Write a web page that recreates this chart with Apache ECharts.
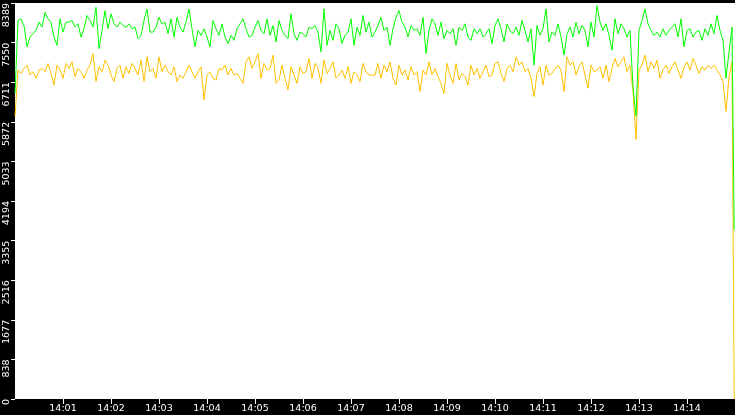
<!DOCTYPE html>
<html>
<head>
<meta charset="utf-8">
<script src="https://cdn.jsdelivr.net/npm/echarts@6/dist/echarts.min.js"></script>
<style>
    html, body { margin: 0; padding: 0; background: #000; }
    #main { width: 735px; height: 415px; }
</style>
</head>
<body>
<div id="main"></div>
<script>
// 采样间隔(秒), 起始 14:00:00, 共 15 分钟
var stepSec = 3.75;
var endSec = 899;
var startHour = 14;

// 纵轴刻度
var yMax = 8389;
var ySplit = 10;

// 横轴刻度标签
var timeLabels = ['14:01','14:02','14:03','14:04','14:05','14:06','14:07','14:08','14:09','14:10','14:11','14:12','14:13','14:14'];

// 绿色曲线 (最后一个点为结尾的跌落)
var greenData = [
    6478, 8018, 8053, 7913, 7458, 7668, 7738, 7808, 7983, 7878, 8193, 8053, 7983, 7668, 7493, 8053, 7773, 7983, 7983, 8018,
    7878, 7948, 7668, 7843, 8123, 8018, 7878, 8298, 7423, 7808, 8228, 7843, 8158, 7948, 7878, 7983, 7913, 7878, 7948, 7843,
    7878, 7633, 7703, 8018, 8263, 7773, 7773, 7878, 8088, 7948, 7983, 7738, 8053, 7668, 8088, 7878, 7773, 7983, 8263, 7843,
    7458, 7808, 7703, 7843, 7668, 7458, 8018, 7843, 7703, 7948, 7668, 7528, 7703, 7598, 7843, 7948, 8053, 7843, 7668, 7703,
    7878, 8018, 7808, 7738, 8053, 7703, 7913, 7563, 8018, 7808, 7703, 7633, 8158, 7738, 7598, 7773, 7738, 7668, 7878, 7843,
    7913, 7773, 7353, 8263, 7493, 7808, 7598, 7948, 7843, 7528, 7703, 7773, 8053, 7493, 7878, 7703, 8123, 7773, 7983, 7668,
    7773, 7913, 8088, 7808, 7878, 7493, 7843, 8088, 8228, 7983, 7878, 7668, 7913, 7808, 7843, 7703, 8088, 7318, 7808, 8053,
    7948, 7703, 7983, 7633, 7808, 7738, 7843, 7493, 7878, 7808, 7948, 7668, 7598, 7843, 7738, 7843, 7668, 7738, 7843, 7528,
    7913, 8053, 7843, 7563, 7948, 7808, 7738, 7878, 7703, 8018, 7808, 7563, 7843, 7073, 7913, 7703, 7843, 8263, 7563, 7773,
    7703, 7948, 7668, 7283, 7738, 7878, 7668, 7983, 7738, 7913, 7808, 7458, 7983, 7668, 8333, 7983, 7808, 7948, 7703, 7388,
    8053, 7738, 7948, 7843, 7668, 7808, 6618, 5988, 7808, 8018, 8263, 7948, 7808, 7703, 7773, 7668, 7843, 7703, 7808, 7878,
    7948, 7668, 8053, 7458, 7808, 7843, 7668, 7773, 7808, 7598, 7843, 7703, 7948, 7738, 8123, 7808, 7598, 6793, 7353, 7878,
    3590
];

// 黄色曲线 (最后一个点为结尾的跌落)
var yellowData = [
    5990, 6968, 6898, 7003, 7073, 6863, 6933, 6793, 6968, 7003, 6933, 7108, 6898, 6653, 7073, 6968, 6793, 7108, 7003, 7143,
    6828, 7003, 6933, 6793, 6968, 7073, 7318, 6723, 7038, 6933, 7178, 7073, 6863, 6723, 7003, 7073, 6793, 7038, 6898, 7108,
    7003, 6863, 7178, 6723, 7248, 6933, 7003, 6793, 7248, 6933, 7073, 6933, 6863, 7038, 6723, 6863, 6793, 6933, 7073, 6933,
    6793, 6933, 7038, 6338, 6863, 6933, 6793, 6758, 7003, 6968, 7073, 6863, 7003, 6863, 6898, 6793, 6688, 7143, 7248, 7003,
    7143, 7318, 6793, 7108, 6968, 7003, 7283, 6688, 6758, 7073, 6793, 6548, 7038, 6863, 6688, 7038, 6898, 6933, 7213, 6793,
    7108, 7003, 6688, 7178, 6898, 7003, 7143, 6793, 6863, 6968, 6793, 7038, 6688, 6933, 6863, 6723, 7108, 6933, 6863, 6863,
    6863, 7108, 6793, 7073, 6933, 7143, 6793, 6653, 7073, 6863, 6968, 6758, 7038, 6863, 6933, 6513, 6968, 6863, 7143, 6863,
    7003, 6828, 6688, 6478, 7108, 6863, 6688, 7108, 6758, 6898, 6828, 6653, 7073, 6863, 7003, 6793, 6933, 7073, 6828, 6863,
    7108, 7143, 6898, 6723, 7003, 7073, 6933, 7248, 7073, 7143, 6933, 7003, 6793, 6408, 6898, 7038, 6653, 7073, 6863, 6898,
    7003, 7073, 6968, 6513, 7248, 7073, 7143, 6863, 7038, 7143, 6863, 6583, 7073, 6933, 6968, 7038, 6793, 7073, 6723, 7003,
    7213, 7038, 7143, 7248, 6933, 7073, 6513, 5498, 6968, 7073, 7283, 6933, 7143, 7003, 7178, 6793, 6968, 7073, 6898, 7038,
    7143, 6968, 6793, 7038, 7143, 6968, 7213, 7073, 6898, 7038, 6968, 7073, 7003, 7073, 6968, 6863, 6723, 6093, 6828, 7143,
    0
];

// 把数值数组转成 [秒, 值]
function toPoints(arr) {
    var pts = [];
    for (var i = 0; i < arr.length; i++) {
        var t = (i === arr.length - 1) ? endSec : i * stepSec;
        pts.push([t, arr[i]]);
    }
    return pts;
}

var tickSecs = [];
for (var k = 0; k < timeLabels.length; k++) {
    tickSecs.push((k + 1) * 60);
}

var labelFont = 'DejaVu Sans';

var trendOption = {
    backgroundColor: '#000',
    animation: false,
    grid: {
        show: true,
        left: 15,
        right: 0,
        top: 0,
        bottom: 16,
        backgroundColor: '#fff',
        borderWidth: 0
    },
    xAxis: {
        type: 'value',
        min: 0,
        max: 900,
        splitLine: { show: false },
        axisLine: { show: false },
        axisTick: {
            show: true,
            length: 5,
            customValues: tickSecs,
            lineStyle: { color: '#fff', width: 1 }
        },
        axisLabel: {
            color: '#fff',
            fontFamily: labelFont,
            fontSize: 9.5,
            margin: 5,
            customValues: tickSecs,
            formatter: function (v) {
                var idx = Math.round(v / 60) - 1;
                return timeLabels[idx] || '';
            }
        }
    },
    yAxis: {
        type: 'value',
        min: 0,
        max: yMax,
        interval: yMax / ySplit,
        splitLine: { show: false },
        axisLine: { show: false },
        axisTick: {
            show: true,
            length: 4,
            lineStyle: { color: '#fff', width: 1 }
        },
        axisLabel: {
            color: '#fff',
            fontFamily: labelFont,
            fontSize: 9.5,
            rotate: 90,
            align: 'right',
            verticalAlign: 'middle',
            margin: 8,
            formatter: function (v) {
                return String(Math.floor(v + 0.001));
            }
        }
    },
    series: [
        {
            name: 'yellow',
            type: 'line',
            showSymbol: false,
            lineStyle: { color: '#ffc000', width: 1 },
            data: toPoints(yellowData)
        },
        {
            name: 'green',
            type: 'line',
            showSymbol: false,
            lineStyle: { color: '#00ff00', width: 1 },
            data: toPoints(greenData)
        }
    ]
};

var trendChart = echarts.init(document.getElementById('main'));
trendChart.setOption(trendOption);

window.addEventListener('resize', function () {
    trendChart.resize();
});
</script>
</body>
</html>
